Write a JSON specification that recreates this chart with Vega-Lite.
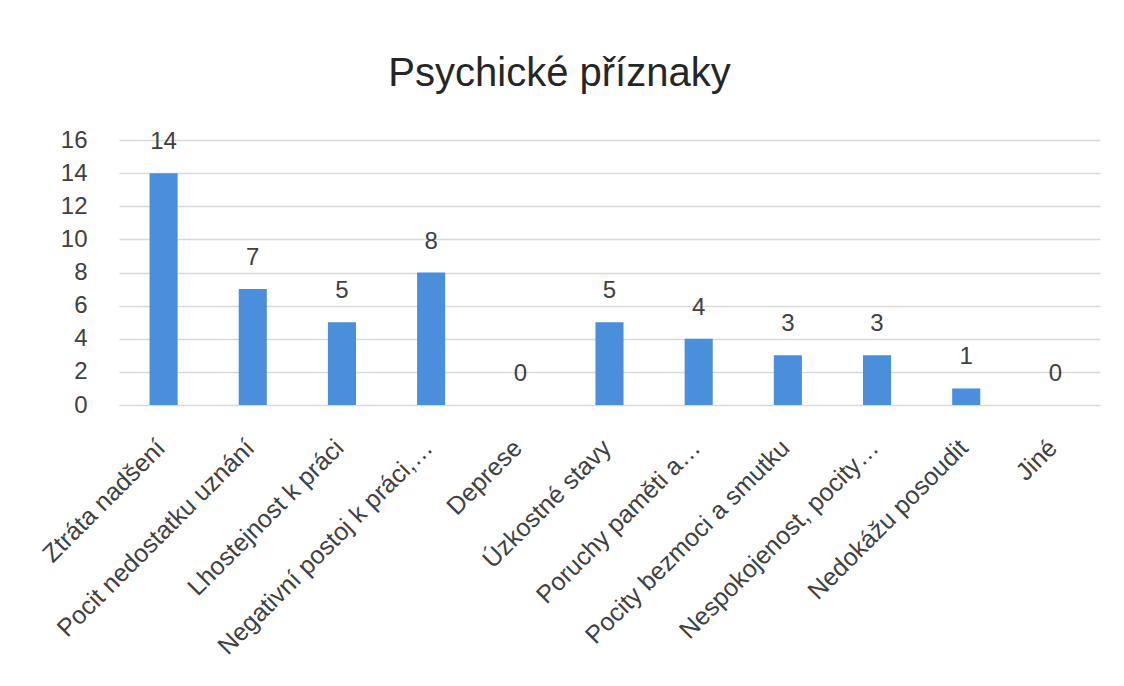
{
  "$schema": "https://vega.github.io/schema/vega-lite/v6.json",
  "autosize": "none",
  "width": 981,
  "height": 265,
  "padding": {"left": 119, "top": 140, "right": 24, "bottom": 281},
  "background": "white",
  "title": {
    "text": "Psychické příznaky",
    "fontSize": 40,
    "font": "Liberation Sans",
    "fontWeight": "normal",
    "color": "#262626",
    "anchor": "middle",
    "dx": -50,
    "offset": 34
  },
  "data": {
    "values": [
      {"k": "Ztráta nadšení", "v": 14},
      {"k": "Pocit nedostatku uznání", "v": 7},
      {"k": "Lhostejnost k práci", "v": 5},
      {"k": "Negativní postoj k práci,…", "v": 8},
      {"k": "Deprese", "v": 0},
      {"k": "Úzkostné stavy", "v": 5},
      {"k": "Poruchy paměti a…", "v": 4},
      {"k": "Pocity bezmoci a smutku", "v": 3},
      {"k": "Nespokojenost, pocity…", "v": 3},
      {"k": "Nedokážu posoudit", "v": 1},
      {"k": "Jiné", "v": 0}
    ]
  },
  "encoding": {
    "x": {
      "field": "k",
      "type": "nominal",
      "sort": null,
      "title": null,
      "scale": {"paddingInner": 0.685, "paddingOuter": 0.3425},
      "axis": {
        "labelAngle": -45,
        "labelFont": "Liberation Sans",
        "labelFontSize": 25,
        "labelColor": "#404040",
        "labelPadding": 30,
        "labelOffset": -11,
        "ticks": false,
        "domain": false,
        "labelLimit": 400
      }
    },
    "y": {
      "field": "v",
      "type": "quantitative",
      "title": null,
      "scale": {"domain": [0, 16]},
      "axis": {
        "values": [0, 2, 4, 6, 8, 10, 12, 14, 16],
        "labelFont": "Liberation Sans",
        "labelFontSize": 24,
        "labelColor": "#404040",
        "labelPadding": 32,
        "ticks": false,
        "domain": false,
        "gridColor": "#d9d9d9",
        "gridWidth": 1.5
      }
    }
  },
  "layer": [
    {"mark": {"type": "bar", "color": "#4a8fdb"}},
    {
      "mark": {
        "type": "text",
        "font": "Liberation Sans",
        "fontSize": 24,
        "color": "#404040",
        "baseline": "alphabetic",
        "dy": -24
      },
      "encoding": {"text": {"field": "v", "type": "quantitative"}}
    }
  ],
  "config": {"view": {"stroke": null}}
}
